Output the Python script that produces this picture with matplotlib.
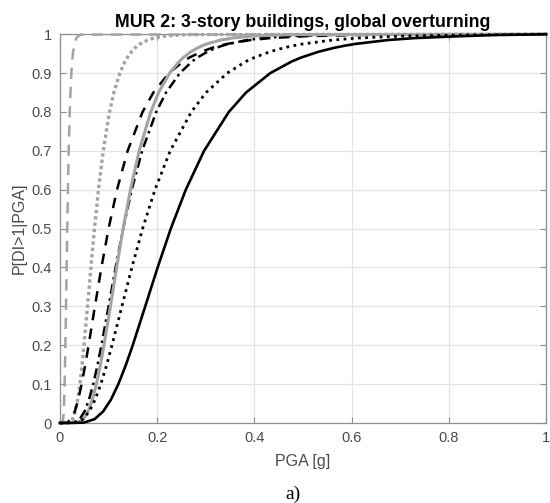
import matplotlib
matplotlib.use("Agg")
import matplotlib.pyplot as plt

plt.rcParams['font.family'] = ['Liberation Sans', 'DejaVu Sans']

p_levels = [0.001, 0.01, 0.03, 0.06, 0.1, 0.15, 0.2, 0.3, 0.4, 0.5,
            0.6, 0.7, 0.8, 0.85, 0.9, 0.93, 0.94, 0.955, 0.965, 0.97,
            0.975, 0.985, 0.99, 0.995, 0.998, 0.999]

# PGA [g] of each curve at the levels above
pga_gray_dashed = [0.0051, 0.0066, 0.0078, 0.0087, 0.0096, 0.0104, 0.0112, 0.0125, 0.0137, 0.015,
                   0.0164, 0.018, 0.0201, 0.0216, 0.0235, 0.0251, 0.0258, 0.0271, 0.0283, 0.029,
                   0.0298, 0.032, 0.0339, 0.037, 0.0411, 0.044]
pga_gray_dotted = [0.0188, 0.0261, 0.0316, 0.0364, 0.0409, 0.0455, 0.0494, 0.0567, 0.0637, 0.071,
                   0.0792, 0.089, 0.102, 0.1109, 0.1232, 0.1339, 0.1386, 0.1472, 0.1548, 0.1594,
                   0.1649, 0.1805, 0.193, 0.2149, 0.2447, 0.268]
pga_gray_solid = [0.0344, 0.0478, 0.0579, 0.0666, 0.0749, 0.0833, 0.0905, 0.1038, 0.1166, 0.13,
                  0.145, 0.1629, 0.1867, 0.203, 0.2256, 0.2452, 0.2537, 0.2695, 0.2834, 0.2919,
                  0.302, 0.3305, 0.3534, 0.3936, 0.4481, 0.4909]
pga_black_dashed = [0.0143, 0.0231, 0.0306, 0.0375, 0.0446, 0.0521, 0.0589, 0.0719, 0.0853, 0.1,
                    0.1173, 0.1392, 0.1699, 0.1921, 0.2242, 0.2534, 0.2664, 0.2909, 0.3132, 0.3271,
                    0.3438, 0.3924, 0.4329, 0.5067, 0.613, 0.7006]
pga_black_dashdot = [0.0277, 0.0406, 0.0508, 0.0597, 0.0685, 0.0774, 0.0853, 0.1, 0.1145, 0.13,
                     0.1476, 0.169, 0.198, 0.2182, 0.2467, 0.2719, 0.2829, 0.3034, 0.3217, 0.333,
                     0.3464, 0.3847, 0.4159, 0.4714, 0.5481, 0.6094]
pga_black_dotted = [0.0311, 0.0473, 0.0604, 0.0723, 0.084, 0.0962, 0.107, 0.1274, 0.1479, 0.17,
                    0.1954, 0.2268, 0.2701, 0.3006, 0.344, 0.3828, 0.3998, 0.4319, 0.4605, 0.4784,
                    0.4996, 0.5608, 0.611, 0.7011, 0.8278, 0.93]
pga_black_solid = [0.0486, 0.0713, 0.089, 0.1048, 0.1201, 0.1358, 0.1497, 0.1754, 0.2009, 0.228,
                   0.2588, 0.2964, 0.3473, 0.3827, 0.4327, 0.4769, 0.4961, 0.5321, 0.5642, 0.584,
                   0.6075, 0.6747, 0.7295, 0.8267, 0.9, 0.96]

x_ticks = [0, 0.2, 0.4, 0.6, 0.8, 1]
x_ticklabels = ['0', '0.2', '0.4', '0.6', '0.8', '1']
y_ticks = [0, 0.1, 0.2, 0.3, 0.4, 0.5, 0.6, 0.7, 0.8, 0.9, 1]
y_ticklabels = ['0', '0.1', '0.2', '0.3', '0.4', '0.5', '0.6', '0.7', '0.8', '0.9', '1']

gray = '#a3a3a3'
curves = [
    (pga_gray_dashed, gray, (0, (4.5, 3.2)), 1.8),
    (pga_gray_dotted, gray, (0, (1.0, 0.9)), 2.4),
    (pga_black_dashed, 'black', (0, (4.2, 3.4)), 1.8),
    (pga_black_dashdot, 'black', (0, (4.0, 1.8, 1.0, 1.8)), 1.8),
    (pga_gray_solid, gray, '-', 2.2),
    (pga_black_dotted, 'black', (0, (1.0, 1.6)), 2.0),
    (pga_black_solid, 'black', '-', 1.9),
]

fig = plt.figure(figsize=(5.5, 5.03), dpi=100)
ax = fig.add_axes([0.109, 0.159, 0.884, 0.773])

for pga, color, ls, lw in curves:
    xs = [0] + pga + [1]
    ys = [0] + p_levels + [1]
    ax.plot(xs, ys, color=color, linestyle=ls, linewidth=lw, clip_on=False, zorder=3)

ax.set_xlim(0, 1)
ax.set_ylim(0, 1)
ax.set_xticks(x_ticks)
ax.set_xticklabels(x_ticklabels)
ax.set_yticks(y_ticks)
ax.set_yticklabels(y_ticklabels)

ax.grid(True, color='#e3e3e3', linewidth=0.9)
ax.set_axisbelow(True)
for s in ax.spines.values():
    s.set_color('#8f8f8f')
    s.set_linewidth(0.9)
ax.tick_params(direction='in', length=4, width=0.8, color='#8f8f8f',
               labelcolor='#4a4a4a', labelsize=10.5, top=True, right=True, pad=6)

ax.set_title('MUR 2: 3-story buildings, global overturning', fontsize=12.8,
             fontweight='bold', pad=5)
ax.set_xlabel('PGA [g]', fontsize=11.5, color='#4a4a4a', labelpad=6)
ax.set_ylabel('P[DI>1|PGA]', fontsize=11.5, color='#4a4a4a', labelpad=3)

fig.text(0.533, 0.008, 'a)', fontsize=14, family='Liberation Serif', ha='center', va='baseline')

fig.savefig('out.png', dpi=100)
